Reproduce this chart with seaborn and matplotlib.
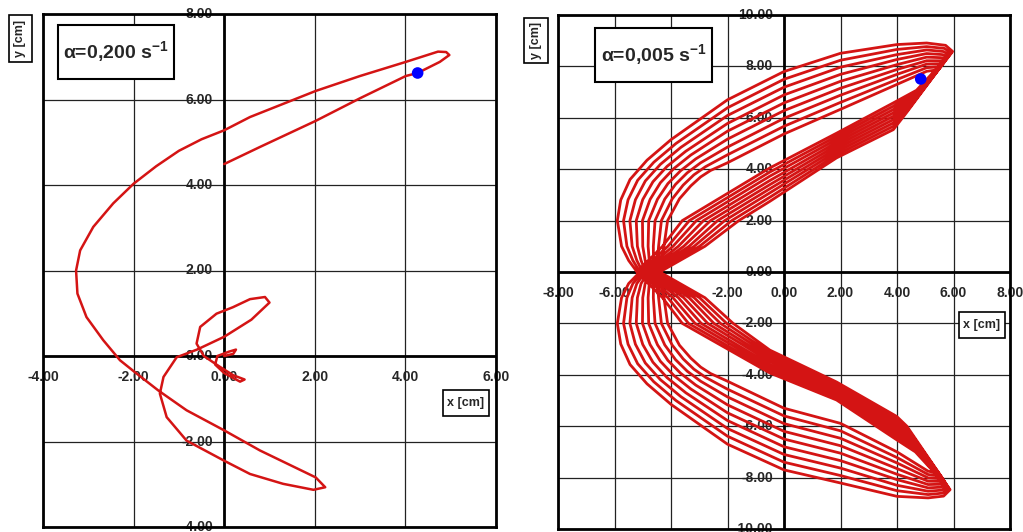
import pandas as pd
import matplotlib
matplotlib.use("Agg")
import matplotlib.pyplot as plt
import seaborn as sns
from matplotlib.patches import Rectangle

# alpha = 0.200 1/s : trajectory
left_x = [0.00, 0.79, 2.02, 3.00, 4.01, 4.27, 4.76, 4.97, 4.90, 4.72, 4.01, 3.00, 2.02, 0.57, 0.00,
          -0.50, -1.00, -1.50, -2.00, -2.45, -2.89, -3.18, -3.27, -3.24, -3.04, -2.67, -2.30, -1.97,
          -1.45, -0.83, 0.00, 0.79, 2.02, 2.23, 1.97, 1.30, 0.57, 0.00, -0.83, -1.27, -1.42,
          -1.34, -1.05, -0.60, 0.00, 0.60, 1.00, 0.90, 0.57, 0.19, -0.17, -0.53, -0.61, -0.45,
          -0.10, 0.20, 0.45, 0.35, 0.00, -0.20, -0.15, 0.10, 0.26, 0.20, 0.00]
left_y = [4.49, 4.89, 5.50, 6.03, 6.55, 6.62, 6.88, 7.04, 7.11, 7.12, 6.88, 6.55, 6.20, 5.59, 5.28,
          5.07, 4.80, 4.44, 4.03, 3.57, 3.02, 2.47, 2.00, 1.46, 0.91, 0.37, -0.10, -0.38,
          -0.81, -1.27, -1.74, -2.21, -2.84, -3.07, -3.13, -2.99, -2.76, -2.45, -1.98, -1.43, -0.88,
          -0.49, -0.03, 0.15, 0.45, 0.85, 1.25, 1.38, 1.33, 1.14, 0.99, 0.68, 0.29, 0.00,
          -0.25, -0.45, -0.55, -0.60, -0.40, -0.20, 0.00, 0.10, 0.15, 0.05, 0.00]
left_dot = (4.27, 6.62)

# alpha = 0.005 1/s : one list of (x, y) per swing, outermost first
swing_0 = [(-5.20, 0), (-4.30, 1), (-3.60, 2), (-0.5, 4.05), (1.86, 5.40), (3.87, 6.58), (4.69, 7.07), (5.97, 8.58),
           (5.72, 8.82), (5.05, 8.91), (4.0, 8.85), (2.0, 8.51), (0.0, 7.80), (-2.0, 6.70), (-4.0, 5.15), (-4.85, 4.35),
           (-5.45, 3.60), (-5.78, 2.80), (-5.90, 2.0), (-5.75, 1.0), (-5.50, 0.45), (-5.20, 0),
           (-4.30, -1), (-3.60, -2), (-0.5, -3.93), (1.86, -4.98), (3.99, -6.53), (4.65, -7.0), (5.88, -8.47),
           (5.65, -8.72), (5.1, -8.79), (4.0, -8.73), (2.0, -8.21), (0.0, -7.70), (-2.0, -6.70), (-4.0, -5.15),
           (-4.85, -4.35), (-5.45, -3.60), (-5.78, -2.80), (-5.90, -2.0), (-5.75, -1.0), (-5.50, -0.45)]
swing_1 = [(-5.10, 0), (-4.11, 1), (-3.35, 2), (-0.5, 3.89), (1.86, 5.28), (3.87, 6.45), (4.645, 6.96), (5.92, 8.51),
           (5.68, 8.70), (5.05, 8.77), (4.0, 8.66), (2.0, 8.24), (0.0, 7.50), (-2.0, 6.39), (-3.825, 5.00), (-4.61, 4.27),
           (-5.18, 3.57), (-5.52, 2.81), (-5.68, 2.0), (-5.56, 1.0), (-5.35, 0.45), (-5.10, 0),
           (-4.11, -1), (-3.38, -2), (-0.5, -3.82), (1.86, -4.89), (3.99, -6.42), (4.61, -6.88), (5.84, -8.405),
           (5.61, -8.605), (5.1, -8.66), (4.0, -8.51), (2.0, -7.92), (0.0, -7.40), (-2.0, -6.39), (-3.825, -5.00),
           (-4.61, -4.27), (-5.18, -3.57), (-5.52, -2.81), (-5.68, -2.0), (-5.56, -1.0), (-5.35, -0.45)]
swing_2 = [(-5.00, 0), (-3.93, 1), (-3.10, 2), (-0.5, 3.73), (1.86, 5.16), (3.87, 6.32), (4.60, 6.85), (5.87, 8.44),
           (5.64, 8.58), (5.05, 8.64), (4.0, 8.46), (2.0, 7.97), (0.0, 7.19), (-2.0, 6.09), (-3.65, 4.85), (-4.375, 4.19),
           (-4.91, 3.54), (-5.26, 2.81), (-5.455, 2.0), (-5.375, 1.0), (-5.21, 0.45), (-5.00, 0),
           (-3.93, -1), (-3.15, -2), (-0.5, -3.71), (1.86, -4.81), (3.99, -6.30), (4.58, -6.75), (5.80, -8.34),
           (5.57, -8.49), (5.1, -8.53), (4.0, -8.30), (2.0, -7.63), (0.0, -7.10), (-2.0, -6.09), (-3.65, -4.85),
           (-4.375, -4.19), (-4.91, -3.54), (-5.26, -2.81), (-5.455, -2.0), (-5.375, -1.0), (-5.21, -0.45)]
swing_3 = [(-4.90, 0), (-3.74, 1), (-2.85, 2), (-0.5, 3.56), (1.86, 5.04), (3.87, 6.19), (4.555, 6.74), (5.82, 8.37),
           (5.60, 8.46), (5.05, 8.50), (4.0, 8.27), (2.0, 7.69), (0.0, 6.89), (-2.0, 5.78), (-3.475, 4.70), (-4.14, 4.11),
           (-4.64, 3.51), (-5.00, 2.82), (-5.23, 2.0), (-5.19, 1.0), (-5.06, 0.45), (-4.90, 0),
           (-3.74, -1), (-2.93, -2), (-0.5, -3.60), (1.86, -4.72), (3.99, -6.19), (4.54, -6.63), (5.76, -8.275),
           (5.53, -8.375), (5.1, -8.40), (4.0, -8.08), (2.0, -7.34), (0.0, -6.80), (-2.0, -5.78), (-3.475, -4.70),
           (-4.14, -4.11), (-4.64, -3.51), (-5.00, -2.82), (-5.23, -2.0), (-5.19, -1.0), (-5.06, -0.45)]
swing_4 = [(-4.80, 0), (-3.55, 1), (-2.60, 2), (-0.5, 3.40), (1.86, 4.92), (3.87, 6.06), (4.51, 6.63), (5.77, 8.30),
           (5.56, 8.34), (5.05, 8.36), (4.0, 8.07), (2.0, 7.42), (0.0, 6.58), (-2.0, 5.48), (-3.30, 4.55), (-3.90, 4.025),
           (-4.375, 3.475), (-4.74, 2.825), (-5.01, 2.0), (-5.00, 1.0), (-4.915, 0.45), (-4.80, 0),
           (-3.55, -1), (-2.70, -2), (-0.5, -3.48), (1.86, -4.63), (3.99, -6.08), (4.50, -6.50), (5.72, -8.21),
           (5.49, -8.26), (5.1, -8.27), (4.0, -7.87), (2.0, -7.05), (0.0, -6.50), (-2.0, -5.48), (-3.30, -4.55),
           (-3.90, -4.025), (-4.375, -3.475), (-4.74, -2.825), (-5.01, -2.0), (-5.00, -1.0), (-4.915, -0.45)]
swing_5 = [(-4.70, 0), (-3.36, 1), (-2.35, 2), (-0.5, 3.24), (1.86, 4.80), (3.87, 5.93), (4.465, 6.52), (5.72, 8.23),
           (5.52, 8.22), (5.05, 8.22), (4.0, 7.88), (2.0, 7.15), (0.0, 6.28), (-2.0, 5.17), (-3.125, 4.40), (-3.66, 3.94),
           (-4.11, 3.44), (-4.48, 2.83), (-4.79, 2.0), (-4.81, 1.0), (-4.77, 0.45), (-4.70, 0),
           (-3.36, -1), (-2.48, -2), (-0.5, -3.37), (1.86, -4.54), (3.99, -5.96), (4.46, -6.38), (5.68, -8.145),
           (5.45, -8.145), (5.1, -8.14), (4.0, -7.65), (2.0, -6.76), (0.0, -6.20), (-2.0, -5.17), (-3.125, -4.40),
           (-3.66, -3.94), (-4.11, -3.44), (-4.48, -2.83), (-4.79, -2.0), (-4.81, -1.0), (-4.77, -0.45)]
swing_6 = [(-4.60, 0), (-3.18, 1), (-2.10, 2), (-0.5, 3.08), (1.86, 4.68), (3.87, 5.80), (4.42, 6.41), (5.67, 8.16),
           (5.48, 8.10), (5.05, 8.09), (4.0, 7.69), (2.0, 6.88), (0.0, 5.98), (-2.0, 4.86), (-2.95, 4.25), (-3.425, 3.86),
           (-3.84, 3.41), (-4.22, 2.84), (-4.565, 2.0), (-4.625, 1.0), (-4.62, 0.45), (-4.60, 0),
           (-3.18, -1), (-2.25, -2), (-0.5, -3.26), (1.86, -4.46), (3.99, -5.85), (4.43, -6.25), (5.64, -8.08),
           (5.41, -8.03), (5.1, -8.01), (4.0, -7.43), (2.0, -6.47), (0.0, -5.90), (-2.0, -4.86), (-2.95, -4.25),
           (-3.425, -3.86), (-3.84, -3.41), (-4.22, -2.84), (-4.565, -2.0), (-4.625, -1.0), (-4.62, -0.45)]
swing_7 = [(-4.50, 0), (-2.99, 1), (-1.85, 2), (-0.5, 2.91), (1.86, 4.56), (3.87, 5.67), (4.375, 6.30), (5.62, 8.09),
           (5.44, 7.98), (5.05, 7.95), (4.0, 7.49), (2.0, 6.60), (0.0, 5.67), (-2.0, 4.56), (-2.775, 4.10), (-3.19, 3.78),
           (-3.57, 3.38), (-3.96, 2.84), (-4.34, 2.0), (-4.44, 1.0), (-4.48, 0.45), (-4.50, 0),
           (-2.99, -1), (-2.03, -2), (-0.5, -3.15), (1.86, -4.37), (3.99, -5.73), (4.39, -6.13), (5.60, -8.015),
           (5.37, -7.915), (5.1, -7.88), (4.0, -7.22), (2.0, -6.18), (0.0, -5.60), (-2.0, -4.56), (-2.775, -4.10),
           (-3.19, -3.78), (-3.57, -3.38), (-3.96, -2.84), (-4.34, -2.0), (-4.44, -1.0), (-4.48, -0.45)]
swing_8 = [(-4.40, 0), (-2.80, 1), (-1.60, 2), (-0.5, 2.75), (1.86, 4.44), (3.87, 5.54), (4.33, 6.19), (5.57, 8.02),
           (5.40, 7.86), (5.05, 7.81), (4.0, 7.30), (2.0, 6.33), (0.0, 5.37), (-2.0, 4.25), (-2.60, 3.95), (-2.95, 3.70),
           (-3.30, 3.35), (-3.70, 2.85), (-4.12, 2.0), (-4.25, 1.0), (-4.33, 0.45), (-4.40, 0),
           (-2.80, -1), (-1.80, -2), (-0.5, -3.04), (1.86, -4.28), (3.99, -5.62), (4.35, -6.0), (5.56, -7.95),
           (5.33, -7.80), (5.1, -7.75), (4.0, -7.00), (2.0, -5.89), (0.0, -5.30), (-2.0, -4.25), (-2.60, -3.95),
           (-2.95, -3.70), (-3.30, -3.35), (-3.70, -2.85), (-4.12, -2.0), (-4.25, -1.0), (-4.33, -0.45), (-4.40, 0)]
right_dot = (4.84, 7.51)

swings = [swing_0, swing_1, swing_2, swing_3, swing_4, swing_5, swing_6, swing_7, swing_8]

left_xticks = [-4, -2, 0, 2, 4, 6]
left_yticks = [-4, -2, 0, 2, 4, 6, 8]
right_xticks = [-8, -6, -4, -2, 0, 2, 4, 6, 8]
right_yticks = [-10, -8, -6, -4, -2, 0, 2, 4, 6, 8, 10]

RED = "#d41414"
W, H = 1023, 532

sns.set_style("white")
plt.rcParams["font.family"] = ["Liberation Sans", "DejaVu Sans"]
plt.rcParams["mathtext.fontset"] = "custom"
plt.rcParams["mathtext.rm"] = "Liberation Sans"
plt.rcParams["mathtext.bf"] = "Liberation Sans:bold"

fig = plt.figure(figsize=(W / 100, H / 100), dpi=100)


def px_axes(l, t, r, b):
    return fig.add_axes([l / W, 1 - b / H, (r - l) / W, (b - t) / H])


def px_box(x0, y0, x1, y1, text, size, rot=0, lw=1.2):
    fig.patches.append(Rectangle((x0 / W, 1 - y1 / H), (x1 - x0) / W, (y1 - y0) / H,
                                 transform=fig.transFigure, fc="white", ec="black", lw=lw, zorder=5))
    fig.text((x0 + x1) / 2 / W, 1 - (y0 + y1) / 2 / H, text, ha="center", va="center",
             fontsize=size, fontweight="bold", rotation=rot, zorder=6)


def style_axes(ax, xlim, ylim, xticks, yticks):
    ax.set_xlim(*xlim)
    ax.set_ylim(*ylim)
    ax.set_xticks([])
    ax.set_yticks([])
    ax.set_xlabel("")
    ax.set_ylabel("")
    for v in xticks:
        ax.axvline(v, color="#222222", lw=0.9, zorder=2)
    for v in yticks:
        ax.axhline(v, color="#222222", lw=0.9, zorder=2)
    ax.axvline(0, color="black", lw=2.0, zorder=2)
    ax.axhline(0, color="black", lw=2.0, zorder=2)
    for s in ax.spines.values():
        s.set_visible(True)
        s.set_color("black")
        s.set_linewidth(2.0)
    for v in xticks:
        ax.annotate(f"{v:.2f}", (v, 0), xytext=(0, -15), textcoords="offset points",
                    ha="center", va="center", fontsize=10, fontweight="bold",
                    annotation_clip=False, zorder=1)
    for v in yticks:
        ax.annotate(f"{v:.2f}", (0, v), xytext=(-8, 0), textcoords="offset points",
                    ha="right", va="center", fontsize=10, fontweight="bold",
                    annotation_clip=False, zorder=1)


# left panel
axl = px_axes(43, 14, 496, 527)
dl = pd.DataFrame({"x": left_x, "y": left_y})
sns.lineplot(data=dl, x="x", y="y", sort=False, estimator=None, color=RED, lw=1.8, ax=axl, zorder=3)
sns.scatterplot(x=[left_dot[0]], y=[left_dot[1]], color="#0000ff", s=70, edgecolor="none", ax=axl, zorder=4)
style_axes(axl, (-4, 6), (-4, 8), left_xticks, left_yticks)

# right panel
axr = px_axes(558, 15, 1010, 529)
pts = [p for sw in swings for p in sw]
dr = pd.DataFrame(pts, columns=["x", "y"])
sns.lineplot(data=dr, x="x", y="y", sort=False, estimator=None, color=RED, lw=2.0, ax=axr, zorder=3)
sns.scatterplot(x=[right_dot[0]], y=[right_dot[1]], color="#0000ff", s=70, edgecolor="none", ax=axr, zorder=4)
style_axes(axr, (-8, 8), (-10, 10), right_xticks, right_yticks)

# labels
px_box(58, 25, 174, 79, r"α=0,200 s$^{\mathbf{-1}}$", 14, lw=1.5)
px_box(595, 28, 712, 82, r"α=0,005 s$^{\mathbf{-1}}$", 14, lw=1.5)
px_box(9, 15, 32, 62, "y [cm]", 9, rot=90)
px_box(524, 18, 548, 63, "y [cm]", 9, rot=90)
px_box(443, 390, 489, 416, "x [cm]", 9)
px_box(959, 312, 1005, 338, "x [cm]", 9)

fig.savefig("out.png", dpi=100, facecolor="white")
